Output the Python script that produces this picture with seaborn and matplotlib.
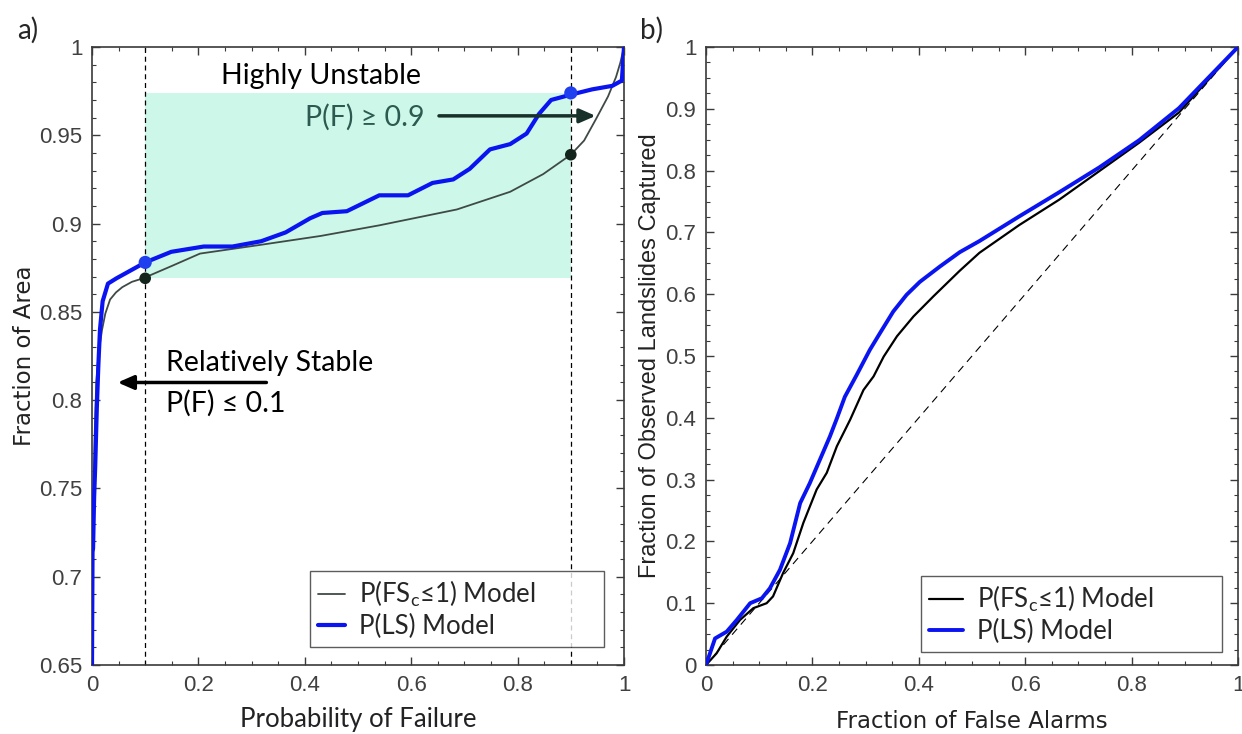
import numpy as np
import pandas as pd
import matplotlib
matplotlib.use("Agg")
import matplotlib.pyplot as plt
from matplotlib.ticker import MultipleLocator
import seaborn as sns

# ---------------- data ----------------
# panel a: cumulative fraction of area vs probability of failure
pls_pf = [0.0, 0.001, 0.002, 0.004, 0.006, 0.009, 0.012, 0.015, 0.02, 0.03, 0.046,
          0.07, 0.1, 0.149, 0.21, 0.264, 0.318, 0.364, 0.41, 0.433, 0.479, 0.54,
          0.594, 0.64, 0.679, 0.71, 0.748, 0.786, 0.817, 0.84, 0.863, 0.9, 0.94,
          0.978, 0.996, 1.0]
pls_area = [0.65, 0.714, 0.716, 0.745, 0.762, 0.795, 0.82, 0.84, 0.856, 0.866, 0.869,
            0.873, 0.878, 0.884, 0.887, 0.887, 0.890, 0.895, 0.903, 0.906, 0.907, 0.916,
            0.916, 0.923, 0.925, 0.931, 0.942, 0.945, 0.951, 0.962, 0.970, 0.973, 0.976,
            0.978, 0.981, 1.0]

pfs_pf = [0.0, 0.002, 0.005, 0.008, 0.012, 0.015, 0.019, 0.025, 0.034, 0.045, 0.057,
          0.075, 0.096, 0.15, 0.203, 0.318, 0.43, 0.54, 0.686, 0.786, 0.848, 0.9,
          0.925, 0.947, 0.97, 0.985, 0.993, 1.0]
pfs_area = [0.65, 0.72, 0.78, 0.81, 0.825, 0.832, 0.84, 0.849, 0.857, 0.861, 0.864,
            0.867, 0.869, 0.876, 0.883, 0.888, 0.893, 0.899, 0.908, 0.918, 0.928, 0.939,
            0.947, 0.959, 0.972, 0.983, 0.991, 1.0]

# threshold points
thr_pf = [0.1, 0.9]
thr_pls = [0.878, 0.974]
thr_pfs = [0.869, 0.939]

# panel b: ROC curves
roc_pls_far = [0.0, 0.017, 0.039, 0.058, 0.083, 0.105, 0.120, 0.139, 0.158, 0.177,
               0.195, 0.214, 0.233, 0.246, 0.261, 0.283, 0.308, 0.327, 0.352, 0.377,
               0.402, 0.440, 0.477, 0.514, 0.589, 0.664, 0.739, 0.814, 0.889, 1.0]
roc_pls_cap = [0.0, 0.043, 0.054, 0.073, 0.100, 0.108, 0.124, 0.154, 0.197, 0.262,
               0.294, 0.332, 0.370, 0.399, 0.434, 0.469, 0.510, 0.537, 0.572, 0.599,
               0.620, 0.645, 0.668, 0.686, 0.726, 0.765, 0.805, 0.849, 0.901, 1.0]

roc_pfs_far = [0.0, 0.020, 0.039, 0.064, 0.089, 0.114, 0.126, 0.145, 0.164, 0.183,
               0.208, 0.227, 0.246, 0.271, 0.296, 0.315, 0.334, 0.359, 0.390, 0.428,
               0.477, 0.514, 0.589, 0.664, 0.739, 0.814, 0.889, 1.0]
roc_pfs_cap = [0.0, 0.019, 0.046, 0.073, 0.092, 0.100, 0.111, 0.149, 0.181, 0.230,
               0.284, 0.311, 0.354, 0.397, 0.445, 0.467, 0.499, 0.532, 0.564, 0.597,
               0.638, 0.667, 0.712, 0.753, 0.799, 0.845, 0.894, 1.0]

diag = [0.0, 1.0]

# ticks
xticks = [0, 0.2, 0.4, 0.6, 0.8, 1.0]
xtick_labels = ['0', '0.2', '0.4', '0.6', '0.8', '1']
a_yticks = [0.65, 0.7, 0.75, 0.8, 0.85, 0.9, 0.95, 1.0]
a_ytick_labels = ['0.65', '0.7', '0.75', '0.8', '0.85', '0.9', '0.95', '1']
b_yticks = [0, 0.1, 0.2, 0.3, 0.4, 0.5, 0.6, 0.7, 0.8, 0.9, 1.0]
b_ytick_labels = ['0', '0.1', '0.2', '0.3', '0.4', '0.5', '0.6', '0.7', '0.8', '0.9', '1']

lab_fs = r'P(FS$_\mathregular{c}$≤1) Model'
lab_ls = 'P(LS) Model'

# ---------------- styling ----------------
sns.set_theme(style="ticks")
plt.rcParams['font.family'] = ['Liberation Sans', 'DejaVu Sans']
plt.rcParams['mathtext.fontset'] = 'custom'
plt.rcParams['mathtext.rm'] = 'Lato'

TXT = ['Lato', 'DejaVu Sans']
TICKF = ['Liberation Sans', 'DejaVu Sans']
tick_color = '#404040'

fig = plt.figure(figsize=(12.42, 7.34), dpi=100)
axA = fig.add_axes([92/1242, 69/734, 532/1242, 618/734])
axB = fig.add_axes([706/1242, 69/734, 532/1242, 618/734])

def style_axes(ax):
    for s in ax.spines.values():
        s.set_color('#3a3a3a')
        s.set_linewidth(1.2)
    ax.tick_params(which='both', direction='in', top=True, right=True,
                   colors='#3a3a3a', labelcolor=tick_color)
    ax.tick_params(which='major', length=6, width=1.0, pad=7)
    ax.tick_params(which='minor', length=3, width=0.8)

# ---------------- panel a ----------------
axA.fill_between(thr_pf, thr_pfs[0], thr_pls[1], color='#cdf8e9', lw=0, zorder=0)
for xv in thr_pf:
    axA.axvline(xv, color='black', ls=(0, (4, 3)), lw=0.9, zorder=1)

dfA1 = pd.DataFrame({'pf': pfs_pf, 'area': pfs_area})
dfA2 = pd.DataFrame({'pf': pls_pf, 'area': pls_area})
sns.lineplot(data=dfA1, x='pf', y='area', ax=axA, sort=False, estimator=None,
             color='#3f4a45', lw=1.3, label=lab_fs, zorder=3)
sns.lineplot(data=dfA2, x='pf', y='area', ax=axA, sort=False, estimator=None,
             color='#0a14f0', lw=3.0, label=lab_ls, zorder=4)
sns.scatterplot(x=thr_pf, y=thr_pfs, ax=axA, color='#13241c', s=70, zorder=5,
                edgecolor='none', legend=False)
sns.scatterplot(x=thr_pf, y=thr_pls, ax=axA, color='#2040f0', s=90, zorder=5,
                edgecolor='none', legend=False)

axA.set_xlim(0, 1)
axA.set_ylim(0.65, 1)
axA.set_xticks(xticks, xtick_labels, fontsize=16, family=TICKF)
axA.set_yticks(a_yticks, a_ytick_labels, fontsize=16, family=TICKF)
axA.xaxis.set_minor_locator(MultipleLocator(0.05))
axA.yaxis.set_minor_locator(MultipleLocator(0.01))
style_axes(axA)
axA.set_xlabel('Probability of Failure', fontsize=18.5, family=TXT, color='#222222',
               labelpad=8)
axA.set_ylabel('Fraction of Area', fontsize=16.5, family=['DejaVu Sans'], color='#222222',
               labelpad=2)

axA.text(0.43, 0.9836, 'Highly Unstable', fontsize=20.5, family=TXT, color='black',
         ha='center', va='center', zorder=6)
axA.text(0.513, 0.960, 'P(F) ≥ 0.9', fontsize=20.5, family=TXT, color='#2c5a50',
         ha='center', va='center', zorder=6)
axA.annotate('', xy=(0.952, 0.961), xytext=(0.647, 0.961),
             arrowprops=dict(arrowstyle='-|>,head_length=0.8,head_width=0.35',
                             color='#17302a', lw=2.5), zorder=6)
axA.text(0.333, 0.821, 'Relatively Stable', fontsize=20.5, family=TXT, color='black',
         ha='center', va='center', zorder=6)
axA.text(0.252, 0.798, 'P(F) ≤ 0.1', fontsize=20.5, family=TXT, color='black',
         ha='center', va='center', zorder=6)
axA.annotate('', xy=(0.043, 0.810), xytext=(0.333, 0.810),
             arrowprops=dict(arrowstyle='-|>,head_length=0.8,head_width=0.35',
                             color='black', lw=2.5), zorder=6)

legA = axA.legend(loc='lower left', bbox_to_anchor=(0.41, 0.029, 0.552, 0.12),
                  mode='expand', frameon=True, fancybox=False, edgecolor='#333333',
                  handlelength=1.05, handletextpad=0.55, borderpad=0.3,
                  labelspacing=0.2, borderaxespad=0.0,
                  prop={'family': TXT, 'size': 18.5})
legA.get_frame().set_linewidth(1.0)

# ---------------- panel b ----------------
dfB1 = pd.DataFrame({'far': roc_pfs_far, 'cap': roc_pfs_cap})
dfB2 = pd.DataFrame({'far': roc_pls_far, 'cap': roc_pls_cap})
sns.lineplot(x=diag, y=diag, ax=axB, color='black', lw=0.8, ls=(0, (7, 5)),
             zorder=2, legend=False)
sns.lineplot(data=dfB1, x='far', y='cap', ax=axB, sort=False, estimator=None,
             color='black', lw=1.6, label=lab_fs, zorder=3)
sns.lineplot(data=dfB2, x='far', y='cap', ax=axB, sort=False, estimator=None,
             color='#0a14f0', lw=2.8, label=lab_ls, zorder=4)

axB.set_xlim(0, 1)
axB.set_ylim(0, 1)
axB.set_xticks(xticks, xtick_labels, fontsize=16, family=TICKF)
axB.set_yticks(b_yticks, b_ytick_labels, fontsize=16, family=TICKF)
axB.xaxis.set_minor_locator(MultipleLocator(0.05))
axB.yaxis.set_minor_locator(MultipleLocator(0.025))
style_axes(axB)
axB.set_xlabel('Fraction of False Alarms', fontsize=16.5, family=['DejaVu Sans'],
               color='#222222', labelpad=10)
axB.set_ylabel('Fraction of Observed Landslides Captured', fontsize=17,
               family=['Liberation Sans'], color='#222222', labelpad=3)

legB = axB.legend(loc='lower left', bbox_to_anchor=(0.404, 0.021, 0.566, 0.126),
                  mode='expand', frameon=True, fancybox=False, edgecolor='#333333',
                  handlelength=1.35, handletextpad=0.55, borderpad=0.3,
                  labelspacing=0.2, borderaxespad=0.0,
                  prop={'family': TXT, 'size': 18.5})
legB.get_frame().set_linewidth(1.0)

fig.text(28/1242, 1 - 30/734, 'a)', fontsize=20, family=TXT, ha='center', va='center')
fig.text(652/1242, 1 - 30/734, 'b)', fontsize=20, family=TXT, ha='center', va='center')

fig.savefig('out.png', dpi=100)
